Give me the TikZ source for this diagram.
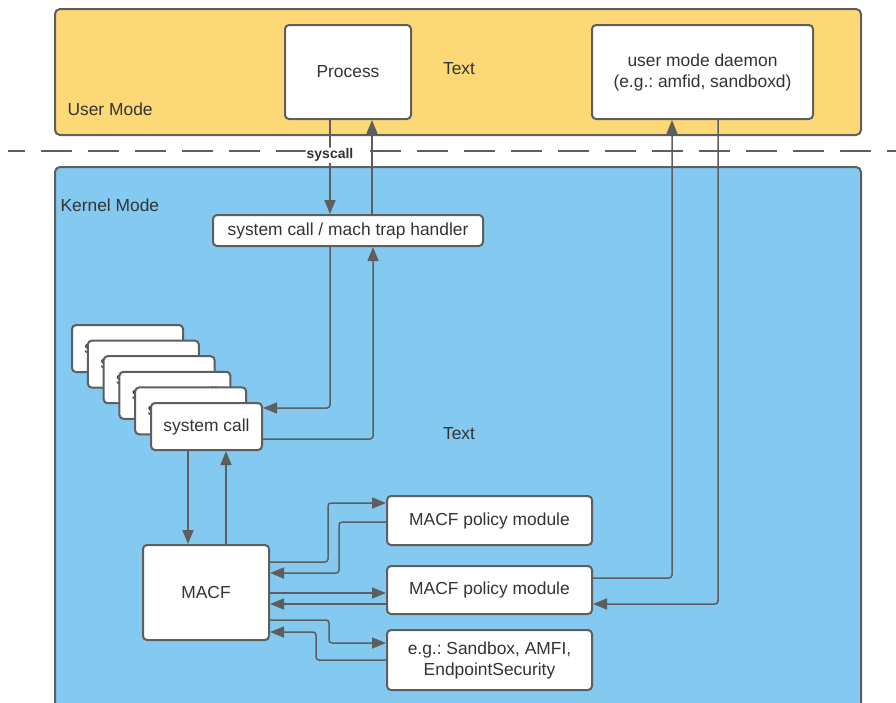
\documentclass[tikz,border=0pt]{standalone}
\usepackage{fontspec}
\setmainfont{Liberation Sans}
\usetikzlibrary{arrows.meta}
\frenchspacing
\definecolor{giallo}{RGB}{252,217,118}
\definecolor{azzurro}{RGB}{131,201,240}
\definecolor{grigio}{RGB}{94,94,94}
\definecolor{testo}{RGB}{51,51,51}
\tikzstyle{diagram}=[
    x=1pt, y=-1pt,
    font={\fontsize{17.4}{21}\selectfont},
    text=testo,
    area/.style={draw=grigio, line width=2pt, rounded corners=5pt},
    area label/.style={anchor=west},
    box/.style={rectangle, draw=grigio, fill=white, line width=2pt, rounded corners=4pt, align=center, inner sep=0pt},
    link/.style={draw=grigio, line width=1.5pt, rounded corners=3pt, -{Triangle[length=14pt,width=11pt]}},
    border line/.style={draw=grigio, line width=1.5pt, dash pattern=on 31pt off 16pt, dash phase=14pt},
]

\begin{document}
\begin{tikzpicture}[diagram]

    \useasboundingbox (0,0) rectangle (896,702);
    \clip (0,0) rectangle (896,702);

    % areas
    \draw[area, fill=giallo] (55,9) rectangle (861,135);
    \draw[area, fill=azzurro] (55,167) rectangle (861,720);
    \draw[border line] (8,151) -- (896,151);
    \node[area label] (user) at (64,109) {User Mode};
    \node[area label] (kernel) at (57,205) {Kernel Mode};

    % boxes
    \node[box, minimum width=126pt, minimum height=94pt] (proc) at (348,72) {Process};
    \node[box, minimum width=221pt, minimum height=94pt] (daemon) at (702.5,72) {user mode daemon\\(e.g.: amfid, sandboxd)};
    \node[box, minimum width=270pt, minimum height=31pt] (handler) at (348,230.5) {system call / mach trap handler};
    \foreach \k in {5,4,3,2,1}
        \node[box, minimum width=111pt, minimum height=47pt] (sc\k) at ({206.5-15.8*\k},{426.5-15.6*\k}) {system call};
    \node[box, minimum width=111pt, minimum height=47pt] (sc) at (206.5,426.5) {system call};
    \node[box, minimum width=126pt, minimum height=95pt] (macf) at (206,592.5) {MACF};
    \node[box, minimum width=205pt, minimum height=49pt] (pm1) at (489.5,520.5) {MACF policy module};
    \node[box, minimum width=205pt, minimum height=48pt] (pm2) at (489.5,590) {MACF policy module};
    \node[box, minimum width=205pt, minimum height=60pt] (eg) at (489.5,660) {e.g.: Sandbox, AMFI,\\EndpointSecurity};

    \node (text1) at (459,69) {Text};
    \node (text2) at (459,434) {Text};

    % connectors
    \draw[link] ([xshift=-18pt]proc.south) -- node[pos=.375, fill=white, inner sep=1pt, font={\fontsize{14}{16}\selectfont\bfseries}] (syscall) {syscall} ([xshift=-18pt]handler.north);
    \draw[link] ([xshift=24pt]handler.north) -- ([xshift=24pt]proc.south);

    \draw[link] ([xshift=-18pt]handler.south) |- ([yshift=18.5pt]sc.east);
    \draw[link] ([yshift=-12.5pt]sc.east) -| ([xshift=25pt]handler.south);

    \draw[link] ([xshift=-18.5pt]sc.south) -- ([xshift=-18.5pt]sc.south |- macf.north);
    \draw[link] ([xshift=20pt]macf.north) -- ([xshift=20pt]macf.north |- sc.south);

    \draw[link] ([yshift=30.5pt]macf.east) -- ++(58,0) |- ([yshift=17.5pt]pm1.west);
    \draw[link] ([yshift=-1.5pt]pm1.west) -- ++(-47,0) |- ([yshift=19.5pt]macf.east);
    \draw[link] ([yshift=-3pt]pm2.west -| macf.east) -- ([yshift=-3pt]pm2.west);
    \draw[link] ([yshift=-14pt]pm2.west) -- ([yshift=-14pt]pm2.west -| macf.east);
    \draw[link] ([yshift=-27.5pt]macf.east) -- ++(59,0) |- ([yshift=17pt]eg.west);
    \draw[link] (eg.west) -- ++(-70,0) |- ([yshift=-39.5pt]macf.east);

    \draw[link] ([yshift=12pt]pm2.east) -| ([xshift=-30.5pt]daemon.south);
    \draw[link] ([xshift=15.5pt]daemon.south) |- ([yshift=-14pt]pm2.east);

\end{tikzpicture}
\end{document}
